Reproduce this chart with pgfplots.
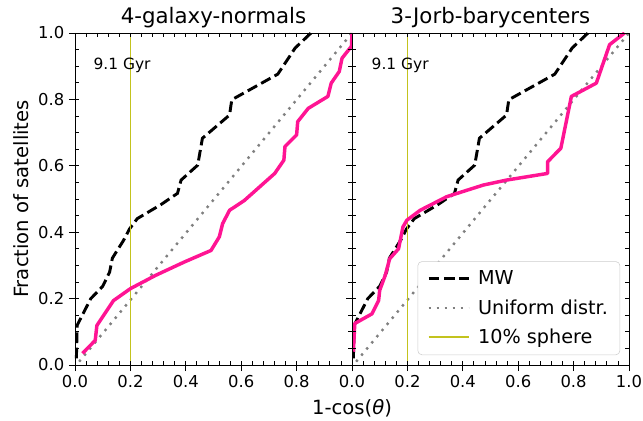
\documentclass[border=0pt]{standalone}
\usepackage{fontspec}
\setmainfont{DejaVu Sans}
\usepackage{pgfplots}
\usepackage{pgfplotstable}
\pgfplotsset{compat=1.18}
\definecolor{hotpink}{HTML}{FF1493}
\definecolor{sphere}{RGB}{195,195,30}
\definecolor{unigray}{HTML}{808080}

\pgfplotstableread{
x y
0.005 0.020
0.008 0.120
0.057 0.200
0.100 0.237
0.125 0.280
0.135 0.322
0.175 0.375
0.197 0.410
0.225 0.441
0.310 0.483
0.370 0.517
0.383 0.557
0.443 0.602
0.460 0.683
0.558 0.753
0.566 0.799
0.732 0.876
0.795 0.955
0.852 1.000
}\mwdata

\pgfplotstableread{
x y
0.027 0.035
0.073 0.074
0.079 0.119
0.139 0.194
0.200 0.230
0.291 0.270
0.394 0.310
0.491 0.345
0.521 0.386
0.533 0.426
0.558 0.466
0.612 0.496
0.721 0.577
0.754 0.617
0.758 0.658
0.800 0.693
0.804 0.733
0.842 0.773
0.913 0.809
0.925 0.849
0.954 0.884
0.964 0.924
0.998 0.960
1.000 1.000
}\normalsdata

\pgfplotstableread{
x y
0.005 0.040
0.010 0.125
0.072 0.154
0.096 0.194
0.100 0.225
0.120 0.270
0.136 0.320
0.168 0.350
0.184 0.416
0.198 0.436
0.246 0.466
0.342 0.507
0.474 0.542
0.558 0.557
0.706 0.577
0.706 0.612
0.754 0.653
0.792 0.809
0.882 0.849
0.930 0.965
0.984 1.000
}\barydata

\pgfplotsset{
  panel/.style={
    width=207.75pt, height=249pt, scale only axis,
    xmin=0, xmax=1, ymin=0, ymax=1,
    xtick={0,0.2,...,1}, ytick={0,0.2,...,1},
    /pgf/number format/.cd, fixed, fixed zerofill, precision=1, assume math mode=true, /pgfplots/.cd,
    tick label style={font=\fontsize{12.3}{14}\selectfont},
    tick align=outside, xtick pos=bottom, ytick pos=left,
    major tick length=4.5pt,
    tick style={black, line width=0.6pt},
    axis line style={line width=0.6pt},
    title style={at={(0.5,1)}, anchor=base, yshift=1pt, font=\fontsize{16}{19}\selectfont},
    minor tick num=0,
  },
  inner/.style={
    width=207.75pt, height=249pt, scale only axis,
    xmin=0, xmax=1, ymin=0, ymax=1,
    xtick={0,0.2,...,1}, ytick={0,0.2,...,1},
    minor x tick num=4, minor y tick num=3,
    xticklabels={}, yticklabels={},
    tick align=inside, xtick pos=both, ytick pos=both,
    major tick length=3.2pt, minor tick length=3.2pt,
    tick style={black, line width=0.6pt},
    axis line style={line width=0.6pt},
  },
  mw/.style={black, line width=2.2pt, dash pattern=on 8pt off 3.5pt},
  uni/.style={unigray, line width=1.8pt, dash pattern=on 1.8pt off 4.2pt},
  sph/.style={sphere, line width=1pt},
  pk/.style={hotpink, line width=2.6pt, line join=round},
}

\begin{document}
\begin{tikzpicture}
\path[use as bounding box] (-56.25pt,-42pt) rectangle (426pt,273.75pt);

% left panel
\begin{axis}[panel, at={(0pt,0pt)}, anchor=south west,
  title={4-galaxy-normals},
  xticklabels={0.0,0.2,0.4,0.6,0.8,},
  yticklabels={0.0,0.2,0.4,0.6,0.8,1.0},
  ylabel={Fraction of satellites},
  ylabel style={font=\fontsize{14.7}{17}\selectfont, at={(ticklabel cs:0.5)}, anchor=south, yshift=0pt},
]
\addplot[mw] table {\mwdata};
\addplot[uni] coordinates {(0.015,0.01) (1,1)};
\addplot[sph] coordinates {(0.2,0) (0.2,1)};
\addplot[pk] table {\normalsdata};
\node[anchor=west, font=\fontsize{11.6}{14}\selectfont] at (axis cs:0.05,0.904) {9.1 Gyr};
\end{axis}
\begin{axis}[inner, at={(0pt,0pt)}, anchor=south west]
\end{axis}

% right panel
\begin{axis}[panel, at={(207.75pt,0pt)}, anchor=south west,
  title={3-Jorb-barycenters},
  xticklabels={0.0,0.2,0.4,0.6,0.8,1.0},
  yticklabels={},
  legend cell align=left,
  legend style={at={(0.968,0.03)}, anchor=south east, draw=black!20, rounded corners=3pt,
    font=\fontsize{14.4}{17}\selectfont, row sep=5.5pt, column sep=4pt,
    inner xsep=7pt, inner ysep=5pt},
  legend image code/.code={\draw[#1] (0pt,0pt) -- (30pt,0pt);},
]
\addplot[mw] table {\mwdata}; \addlegendentry{MW}
\addplot[uni] coordinates {(0.015,0.01) (1,1)}; \addlegendentry{Uniform distr.}
\addplot[sph] coordinates {(0.2,0) (0.2,1)}; \addlegendentry{10\% sphere}
\addplot[pk, forget plot] table {\barydata};
\node[anchor=west, font=\fontsize{11.6}{14}\selectfont] at (axis cs:0.054,0.904) {9.1 Gyr};
\end{axis}
\begin{axis}[inner, at={(207.75pt,0pt)}, anchor=south west]
\end{axis}

\node[font=\fontsize{14.7}{17}\selectfont, anchor=base] at (207.75pt,-37.5pt) {1-cos(\textit{θ})};
\end{tikzpicture}
\end{document}
